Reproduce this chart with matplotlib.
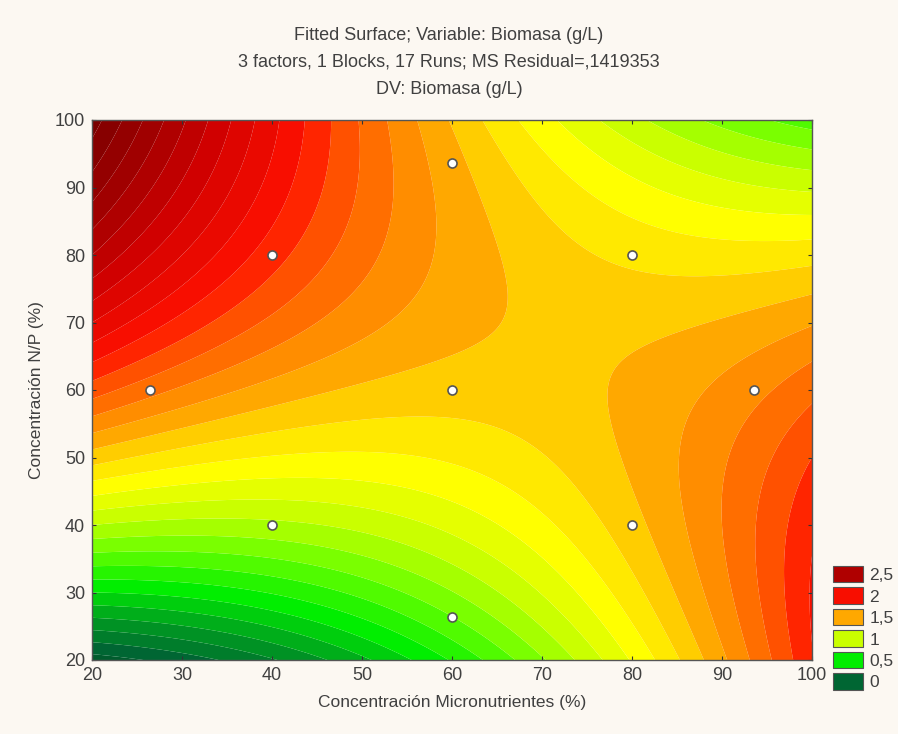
import numpy as np
import matplotlib
matplotlib.use("Agg")
import matplotlib.pyplot as plt
from matplotlib.colors import LinearSegmentedColormap
from matplotlib.patches import Patch

plt.rcParams['font.family'] = ['Liberation Sans', 'DejaVu Sans']

# design points (Micronutrientes %, N/P %)
run_x = [26.4, 40, 40, 60, 60, 60, 80, 80, 93.6]
run_y = [60, 40, 80, 26.4, 60, 93.6, 40, 80, 60]

# fitted quadratic model in coded units X=(x-60)/20, Y=(y-60)/20
# b0, bX, bY, bXX, bYY, bXY
coef = [1.40, -0.02, 0.22, 0.09, -0.10, -0.265]

# colour scale of Biomasa (g/L)
cmap_vals = [-0.3, 0.0, 0.25, 0.5, 0.75, 1.0, 1.2, 1.3, 1.4, 1.5, 1.65, 1.8, 1.95, 2.3, 2.6, 3.0]
cmap_cols = ['#004a22', '#006633', '#00a020', '#00ee00', '#66ff00', '#ccff00', '#ffff00',
             '#ffea00', '#ffcc00', '#ffa800', '#ff8000', '#ff5000', '#ff1000', '#d00000',
             '#a00000', '#700000']
legend_vals = [2.5, 2.0, 1.5, 1.0, 0.5, 0.0]
legend_labels = ['2,5', '2', '1,5', '1', '0,5', '0']
levels = np.arange(-0.45, 3.36, 0.1)

vmin, vmax = cmap_vals[0], cmap_vals[-1]
cm = LinearSegmentedColormap.from_list(
    'stat', [((v - vmin) / (vmax - vmin), c) for v, c in zip(cmap_vals, cmap_cols)])

xg = np.linspace(20, 100, 401)
yg = np.linspace(20, 100, 401)
XX, YY = np.meshgrid(xg, yg)
cx = (XX - 60) / 20
cy = (YY - 60) / 20
Z = (coef[0] + coef[1]*cx + coef[2]*cy + coef[3]*cx**2 + coef[4]*cy**2
     + coef[5]*cx*cy)

bg = '#fcf8f2'
txt = '#404040'
fig = plt.figure(figsize=(8.98, 7.34), dpi=100, facecolor=bg)
ax = fig.add_axes([92/898, 1 - 660/734, 720/898, 540/734])

# colour each band by its mid value
mids = (levels[:-1] + levels[1:]) / 2
band_cols = [cm((np.clip(m, vmin, vmax) - vmin) / (vmax - vmin)) for m in mids]
ax.contourf(XX, YY, Z, levels=levels, colors=band_cols, antialiased=True)

ax.plot(run_x, run_y, 'o', ms=6.5, mfc='white', mec='#555555', mew=1.2)

ax.set_xlim(20, 100)
ax.set_ylim(20, 100)
ax.set_xticks(np.arange(20, 101, 10))
ax.set_yticks(np.arange(20, 101, 10))
ax.tick_params(direction='in', length=3, color='#333333', labelsize=13,
               labelcolor=txt, pad=5, top=True, right=True)
for s in ax.spines.values():
    s.set_color('#555555')
    s.set_linewidth(1.0)

ax.set_xlabel('Concentración Micronutrientes (%)', fontsize=12.5, color=txt, labelpad=8)
ax.set_ylabel('Concentración N/P (%)', fontsize=12.5, color=txt, labelpad=8)

fig.text(0.5, 1 - 35/734, 'Fitted Surface; Variable: Biomasa (g/L)', ha='center', va='center',
         fontsize=13, color=txt)
fig.text(0.5, 1 - 62/734, '3 factors, 1 Blocks, 17 Runs; MS Residual=,1419353', ha='center',
         va='center', fontsize=13, color=txt)
fig.text(0.5, 1 - 90/734, 'DV: Biomasa (g/L)', ha='center', va='center',
         fontsize=13, color=txt)

handles = [Patch(facecolor=cm((v - vmin) / (vmax - vmin)), edgecolor='#555555', lw=0.8)
           for v in legend_vals]
fig.legend(handles, legend_labels, loc='upper left', bbox_to_anchor=(833/898, 1 - 566/734),
           frameon=False, fontsize=12.5, handlelength=1.7, handleheight=1.08,
           handletextpad=0.4, labelspacing=0.25, borderpad=0, borderaxespad=0,
           labelcolor=txt)

fig.savefig('out.png', dpi=100, facecolor=bg)
